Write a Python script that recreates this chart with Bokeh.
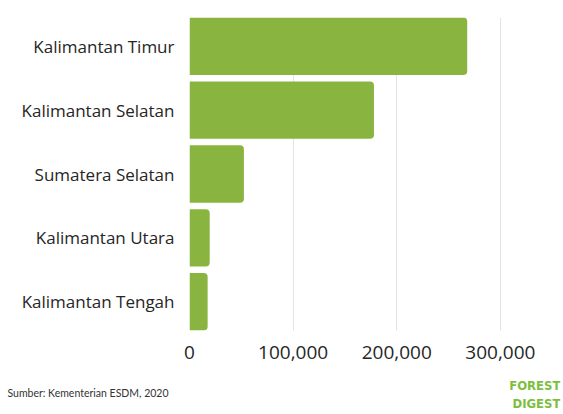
from bokeh.plotting import figure
from bokeh.layouts import column
from bokeh.models import FactorRange, Range1d, FixedTicker, NumeralTickFormatter
from bokeh.core.properties import value
from bokeh.embed import file_html
from bokeh.resources import INLINE

provinces = ["Kalimantan Timur", "Kalimantan Selatan", "Sumatera Selatan",
             "Kalimantan Utara", "Kalimantan Tengah"]
values = [268000, 178000, 52500, 19500, 17500]
x_ticks = [0, 100000, 200000, 300000]
source_text = "Sumber: Kementerian ESDM, 2020"
logo_lines = ["FOREST", "DIGEST"]

GREEN = "#8ab440"
LOGO_GREEN = "#7cbf3f"

p = figure(width=563, height=370, output_backend="svg", toolbar_location=None,
           y_range=FactorRange(factors=provinces[::-1], range_padding=-0.05,
                               range_padding_units="absolute"),
           x_range=Range1d(0, 358000),
           min_border_left=189, min_border_right=3, min_border_top=17,
           min_border_bottom=40)
p.outline_line_color = None
p.background_fill_color = "white"
p.border_fill_color = "white"

p.hbar(y=provinces, right=values, left=0, height=0.9, color=GREEN,
       line_color=None, border_radius=[0, 4, 4, 0])

p.ygrid.grid_line_color = None
p.xgrid.ticker = FixedTicker(ticks=x_ticks[1:])
p.xgrid.grid_line_color = "#e3e3e3"
p.xgrid.grid_line_width = 1

p.xaxis.ticker = FixedTicker(ticks=x_ticks)
p.xaxis.formatter = NumeralTickFormatter(format="0,0")
for ax in (p.xaxis[0], p.yaxis[0]):
    ax.axis_line_color = None
    ax.major_tick_line_color = None
    ax.minor_tick_line_color = None
    ax.major_label_text_color = "#262626"
    ax.major_label_text_font = "Open Sans"
p.xaxis.major_label_text_font_size = "19px"
p.xaxis.major_label_standoff = 9
p.yaxis.major_label_text_font_size = "17px"
p.yaxis.major_label_standoff = 9

# footer strip: source note as the left-axis label, logo as text
f = figure(width=563, height=44, output_backend="svg", toolbar_location=None,
           x_range=Range1d(0, 1), y_range=Range1d(44, 0),
           min_border_left=189, min_border_right=3,
           min_border_top=0, min_border_bottom=0)
f.xaxis.visible = False
f.grid.visible = False
f.outline_line_color = None
f.background_fill_color = "white"
f.border_fill_color = "white"
f.yaxis.ticker = FixedTicker(ticks=[22])
f.yaxis.major_label_overrides = {22: source_text}
f.yaxis.axis_line_color = None
f.yaxis.major_tick_line_color = None
f.yaxis.minor_tick_line_color = None
f.yaxis.major_label_text_font = "Lato"
f.yaxis.major_label_text_font_size = "10.5px"
f.yaxis.major_label_text_color = "#333333"
f.yaxis.major_label_standoff = 15

f.text(x=[1, 1], y=[15, 33], text=logo_lines,
       text_font=value("DejaVu Sans Condensed"), text_font_style="bold",
       text_font_size="13px", text_color=LOGO_GREEN,
       text_baseline="middle", text_align="right")

layout = column(p, f, spacing=0)
open("out.html", "w").write(file_html(layout, INLINE))
